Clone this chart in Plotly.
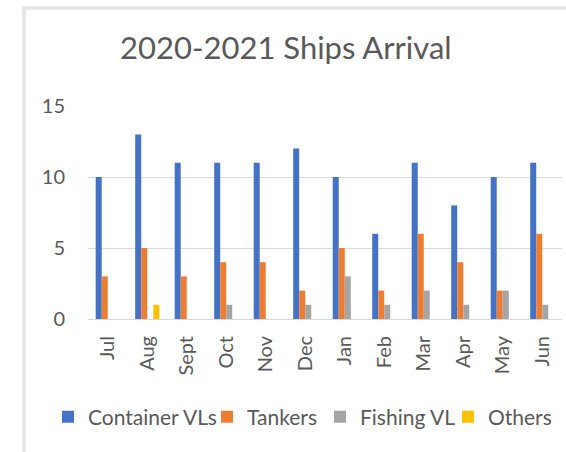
import plotly.graph_objects as go

months = ["Jul", "Aug", "Sept", "Oct", "Nov", "Dec", "Jan", "Feb", "Mar", "Apr", "May", "Jun"]
container_vls = [10, 13, 11, 11, 11, 12, 10, 6, 11, 8, 10, 11]
tankers = [3, 5, 3, 4, 4, 2, 5, 2, 6, 4, 2, 6]
fishing_vl = [0, 0, 0, 1, 0, 1, 3, 1, 2, 1, 2, 1]
others = [0, 1, 0, 0, 0, 0, 0, 0, 0, 0, 0, 0]

series = [
    ("Container VLs", container_vls, "#4472C4"),
    ("Tankers", tankers, "#ED7D31"),
    ("Fishing VL", fishing_vl, "#A5A5A5"),
    ("Others", others, "#FFC000"),
]

font_family = "Lato"
text_color = "#595959"

# plot area geometry (px) used to place legend entries
plot_left, plot_width, plot_height = 88, 474, 213
legend_left_px = [48, 207, 320, 448]

fig = go.Figure()
legend_layout = {}
for i, (name, vals, color) in enumerate(series):
    lname = f"legend{i + 2}"
    fig.add_trace(go.Bar(name=name, x=months, y=vals, marker_color=color,
                         marker_line_width=0, legend=lname, showlegend=True))
    legend_layout[lname] = dict(
        orientation="h", x=(legend_left_px[i] - plot_left) / plot_width, xanchor="left",
        y=-0.46, yanchor="middle", font=dict(size=21, color=text_color, family=font_family),
        bgcolor="rgba(0,0,0,0)", borderwidth=0, itemwidth=30,
    )

# card border: top edge at y=8 px, left edge at x=24 px
border_x = (24 - plot_left) / plot_width
border_y = 1 + (106 - 8) / plot_height

fig.update_layout(
    width=566, height=452,
    barmode="group", bargap=0.39, bargroupgap=0,
    paper_bgcolor="white", plot_bgcolor="white",
    margin=dict(l=88, r=4, t=106, b=133),
    font=dict(family=font_family, color=text_color),
    title=dict(text="2020-2021 Ships Arrival", x=0.505, xanchor="center",
               y=1 - 48 / 452, yanchor="middle", yref="container",
               font=dict(size=31, color=text_color, family=font_family)),
    shapes=[
        dict(type="line", xref="paper", yref="paper", x0=border_x - 0.004, x1=1.2,
             y0=border_y, y1=border_y, line=dict(color="#e4e4e4", width=3.5), layer="below"),
        dict(type="line", xref="paper", yref="paper", x0=border_x, x1=border_x,
             y0=-2.0, y1=border_y + 0.008, line=dict(color="#e4e4e4", width=3.5), layer="below"),
    ],
    **legend_layout,
)

fig.update_yaxes(range=[0, 15], tickvals=[0, 5, 10, 15], showgrid=True,
                 gridcolor="#d9d9d9", gridwidth=1, zeroline=False, showline=False,
                 ticklabelstandoff=22, tickfont=dict(size=20, color=text_color))
fig.update_xaxes(showline=True, linecolor="#d9d9d9", linewidth=1, tickangle=-90,
                 tickfont=dict(size=20, color=text_color), ticklabelstandoff=8)

fig.write_html("out.html")
